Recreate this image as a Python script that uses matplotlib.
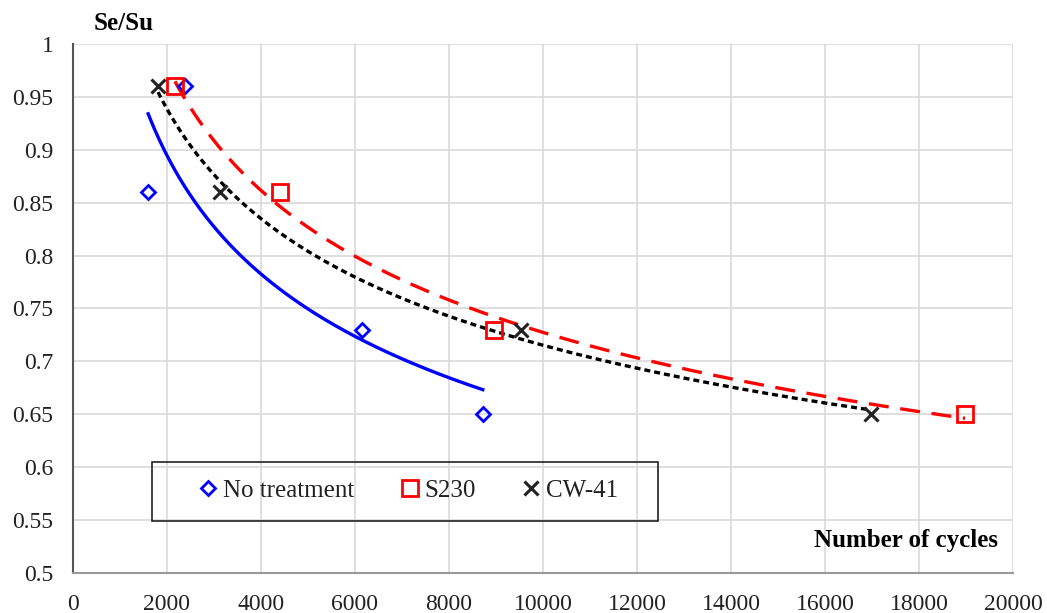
import numpy as np
import matplotlib.pyplot as plt
from matplotlib.patches import Rectangle

plt.rcParams['font.family'] = ['Liberation Serif', 'DejaVu Serif']

no_x = [1600, 2380, 6150, 8720]
no_y = [0.86, 0.96, 0.73, 0.65]
s230_x = [2170, 4400, 8950, 18980]
s230_y = [0.96, 0.86, 0.73, 0.65]
cw_x = [1810, 3130, 9530, 16980]
cw_y = [0.96, 0.86, 0.73, 0.65]


def power_fit(xs, ys):
    b, ln_a = np.polyfit(np.log(xs), np.log(ys), 1)
    xx = np.linspace(min(xs), max(xs), 200)
    return xx, np.exp(ln_a) * xx ** b


fig = plt.figure(figsize=(10.47, 6.13), dpi=100)
ax = fig.add_axes([0.0697, 0.0653, 0.8978, 0.8630])

ax.grid(True, color='#d9d9d9', lw=1.2)
ax.set_axisbelow(True)

xx, yy = power_fit(no_x, no_y)
ax.plot(xx, yy, color='blue', lw=2.4)
xx, yy = power_fit(s230_x, s230_y)
ax.plot(xx, yy, color='red', lw=2.4, dashes=(6, 3.5))
xx, yy = power_fit(cw_x, cw_y)
ax.plot(xx, yy, color='black', lw=2.4, dashes=(1.8, 1.2))

ax.plot(no_x, no_y, 'D', ms=7.5, mfc='none', mec='blue', mew=2, ls='none',
        label='No treatment')
ax.plot(s230_x, s230_y, 's', ms=12, mfc='none', mec='red', mew=2, ls='none',
        label='S230')
ax.plot(cw_x, cw_y, 'x', ms=10, color='#222222', mew=2.2, ls='none',
        label='CW-41')

ax.set_xlim(0, 20000)
ax.set_ylim(0.5, 1.0)
ax.set_xticks(np.arange(0, 20001, 2000))
ax.set_yticks(np.arange(0.5, 1.001, 0.05))
ax.set_yticklabels(['0.5', '0.55', '0.6', '0.65', '0.7', '0.75', '0.8',
                    '0.85', '0.9', '0.95', '1'])
ax.tick_params(length=0, labelsize=17, colors='#222222')
ax.tick_params(axis='x', pad=15)
ax.tick_params(axis='y', pad=14)

for s in ['top', 'right']:
    ax.spines[s].set_visible(False)
ax.spines['left'].set_color('#555555')
ax.spines['left'].set_linewidth(1.5)
ax.spines['bottom'].set_color('#999999')
ax.spines['bottom'].set_linewidth(1.5)

fig.text(0.089, 0.962, 'Se/Su', fontsize=18, fontweight='bold', va='center')
ax.text(0.984, 0.062, 'Number of cycles', transform=ax.transAxes,
        fontsize=18, fontweight='bold', ha='right', va='center')

leg = ax.legend(loc='center', bbox_to_anchor=(0.358, 0.155), ncol=3,
                fontsize=18, frameon=False,
                handlelength=0.6, handletextpad=0.3, columnspacing=1.9,
                borderaxespad=0)
for t in leg.get_texts():
    t.set_color('#222222')
ax.add_patch(Rectangle((0.084, 0.098), 0.538, 0.1115, transform=ax.transAxes,
                       fill=False, edgecolor='#222222', lw=1.2, zorder=5))

fig.savefig('out.png', dpi=100)
